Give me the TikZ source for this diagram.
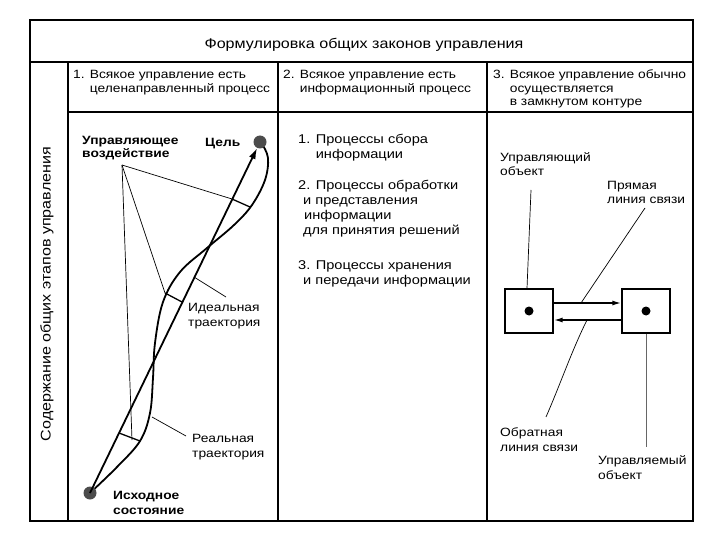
\documentclass[tikz,border=0pt]{standalone}
\usepackage{fontspec}
\setmainfont{Liberation Sans}[FakeStretch=1.15]
\usetikzlibrary{arrows.meta}
\begin{document}
\begin{tikzpicture}[x=1pt,y=-1pt,
  gridline/.style={line width=1.1pt, line cap=rect},
  thinline/.style={line width=0.7pt},
  traj/.style={line width=1.8pt},
  lbl/.style={inner sep=0pt, anchor=base west, align=left, font=\fontsize{12}{14.5}\selectfont},
  lst/.style={inner sep=0pt, anchor=base west, align=left, font=\fontsize{12.7}{15}\selectfont},
  hdr/.style={inner sep=0pt, anchor=base west, align=left, font=\fontsize{12}{13.5}\selectfont},
  spot/.style={circle, fill=black!70, minimum size=13pt, inner sep=0pt},
  objbox/.style={draw, line width=1.2pt, minimum width=48pt, minimum height=44pt, inner sep=0pt},
  dotc/.style={circle, fill=black, minimum size=9pt, inner sep=0pt},
  arr/.style={line width=1.6pt, -{Latex[length=9pt,width=5pt]}},
]
\useasboundingbox (0,0) rectangle (720,540);
% table frame
\draw[gridline] (30,20) rectangle (693,521);
\draw[line width=2.6pt] (693,20) -- (693,522);
\draw[gridline] (30,62) -- (693,62);
\draw[gridline] (68,62) -- (68,521);
\draw[gridline] (68,112) -- (693,112);
\draw[gridline] (278,62) -- (278,521);
\draw[gridline] (487,62) -- (487,521);

% title and headers
\node[inner sep=0pt, font=\fontsize{14}{16}\selectfont] (title) at (364,45) {Формулировка общих законов управления};
\node[hdr] (h1) at (73,92.5) {1. Всякое управление есть\\\phantom{1. }целенаправленный процесс};
\node[hdr] (h2) at (283,92.5) {2. Всякое управление есть\\\phantom{2. }информационный процесс};
\node[hdr] (h3) at (493,106) {3. Всякое управление обычно\\\phantom{3. }осуществляется\\\phantom{3. }в замкнутом контуре};
\node[inner sep=0pt, rotate=90, font=\fontsize{14}{16}\selectfont] (side) at (47,294) {Содержание общих этапов управления};

% column 2
\node[lst] (l1) at (298,159) {1. Процессы сбора\\\phantom{1. }информации};
\node[lst] (l2) at (298,235) {2. Процессы обработки\\\hspace{5pt}и представления\\\hspace{6pt}информации\\\hspace{5pt}для принятия решений};
\node[lst] (l3) at (298,284) {3. Процессы хранения\\\hspace{5pt}и передачи информации};

% column 1
\node[lbl, font=\fontsize{12}{13.5}\selectfont\bfseries] (act) at (82,158) {Управляющее\\воздействие};
\node[lbl, font=\fontsize{12}{13.5}\selectfont\bfseries] (goallbl) at (205,147) {Цель};
\node[lbl] (ideal) at (188,326) {Идеальная\\траектория};
\node[lbl] (real) at (192,457) {Реальная\\траектория};
\node[lbl, font=\fontsize{12}{15}\selectfont\bfseries] (startlbl) at (113,514) {Исходное\\состояние};

\coordinate (src) at (122,165);
\coordinate (a1) at (232,199); \coordinate (b1) at (250,207);
\coordinate (a2) at (182,302); \coordinate (b2) at (165,293);
\coordinate (a3) at (119,433); \coordinate (b3) at (140,441);
\coordinate (m3) at (132,440);
\coordinate (ip) at (194,277); \coordinate (iq) at (226,297);
\coordinate (rp) at (152,417); \coordinate (rq) at (186,436);

\draw[traj] plot[smooth, tension=0.6] coordinates {(90,493) (117,467) (140,441) (150,413) (153,378) (155,343) (163,302) (180,272) (207,248) (234,225) (252,205) (265,180) (268,158) (262,144)};
\node[spot] (start) at (90,493) {};
\node[spot] (goal) at (260,142) {};
\draw[traj, -{Latex[length=11pt,width=7pt]}] (start.center) -- (goal);

\draw[thinline] (src) -- (a1);
\draw[thinline] (src) -- (b2);
\draw[thinline] (src) -- (m3);
\draw[line width=1.3pt] (a1) -- (b1);
\draw[line width=1.3pt] (a2) -- (b2);
\draw[line width=1.3pt] (a3) -- (b3);
\draw[thinline] (ip) -- (iq);
\draw[thinline] (rp) -- (rq);

% column 3
\node[lbl] (ctrllbl) at (500,176) {Управляющий\\объект};
\node[lbl] (fwdlbl) at (607,204) {Прямая\\линия связи};
\node[lbl] (backlbl) at (500,451) {Обратная\\линия связи};
\node[lbl] (objlbl) at (598,479) {Управляемый\\объект};

\node[objbox] (ctrl) at (529,311) {};
\node[objbox] (obj) at (646,311) {};
\node[dotc] (cd) at (ctrl.center) {};
\node[dotc] (od) at (obj.center) {};
\draw[arr] ([yshift=8pt]ctrl.east) -- ([yshift=8pt]obj.west);
\draw[arr] ([yshift=-9pt]obj.west) -- ([yshift=-9pt]ctrl.east);

\coordinate (c1) at (531,190);
\draw[thinline] (c1) -- (ctrl.north -| 527,0);
\coordinate (f1) at (645,208); \coordinate (f2) at (581,303);
\draw[thinline] (f1) -- (f2);
\coordinate (k1) at (587,320); \coordinate (k2) at (546,417);
\draw[thinline] (k1) .. controls (572,350) and (560,385) .. (k2);
\coordinate (o2) at (646,447);
\draw[line width=0.5pt, black!60] (obj.south) -- (o2);
\end{tikzpicture}
\end{document}
